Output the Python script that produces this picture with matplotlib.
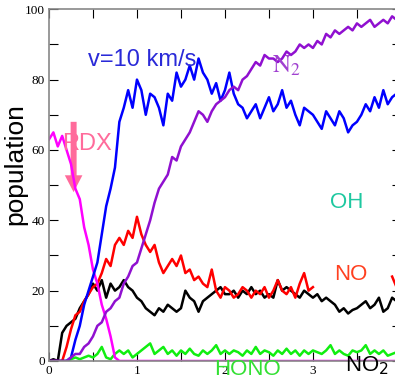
import numpy as np
import matplotlib
matplotlib.use("Agg")
import matplotlib.pyplot as plt
from matplotlib.ticker import MultipleLocator

plt.rcParams['font.family'] = 'Liberation Serif'

# time axis (ps), sampled every 0.05
t = np.round(np.arange(80) * 0.05, 2)

# molecule counts vs time
rdx = [63, 65, 61, 64, 60, 56, 49, 46, 38, 33, 26, 22, 16, 12, 7, 1] + [0] * 64

n2 = [0, 0, 0, 0, 0,
      1, 2, 2, 4, 5,
      7, 10, 11, 14, 15,
      17, 18, 22, 24, 27,
      28, 32, 36, 40, 45,
      49, 51, 53, 58, 57,
      61, 63, 65, 68, 71,
      70, 68, 71, 73, 74,
      75, 77, 78, 77, 80,
      81, 83, 85, 84, 87,
      86, 86, 85, 86, 88,
      87, 88, 90, 89, 90,
      89, 91, 90, 93, 92,
      94, 93, 94, 95, 94,
      96, 95, 96, 97, 95,
      96, 97, 96, 98, 97]

h2o = [0, 0, 0, 0, 0,
       1, 6, 10, 16, 20,
       24, 28, 36, 44, 49,
       55, 68, 72, 77, 72,
       80, 77, 70, 76, 75,
       72, 67, 76, 74, 82,
       78, 80, 84, 80, 86,
       82, 80, 76, 79, 74,
       77, 82, 76, 73, 72,
       69, 71, 73, 69, 72,
       75, 71, 73, 77, 72,
       74, 70, 67, 72, 71,
       70, 68, 66, 71, 69,
       67, 71, 69, 65, 67,
       68, 70, 73, 71, 75,
       72, 77, 73, 75, 76]

no = [0, 0, 0, 0, 4,
      9, 13, 14, 17, 19,
      21, 22, 25, 29, 27,
      33, 35, 33, 37, 35,
      41, 36, 33, 31, 33,
      28, 25, 27, 29, 27,
      30, 25, 26, 23, 24,
      22, 21, 26, 20, 18,
      21, 20, 18, 19, 21,
      20, 18, 20, 19, 21,
      18, 20, 23, 20, 19,
      21, 18, 22, 25, 20,
      21, None, None, None, None,
      None, None, None, None, None,
      None, None, None, None, None,
      None, None, None, 24, 21]

no2 = [0, 0.5, 0, 8, 10,
       11, 12, 15, 17, 19,
       22, 20, 23, 18, 22,
       20, 21, 23, 21, 20,
       18, 17, 15, 14, 13,
       15, 14, 16, 15, 14,
       15, 20, 18, 17, 14,
       17, 18, 19, 20, 21,
       19, 19, 20, 18, 20,
       19, 21, 19, 20, 18,
       19, 18, 23, 20, 21,
       20, 19, 18, 20, 19,
       18, 19, 17, 18, 17,
       16, 14, 15, 13.5, 14.5,
       15, 16, 17, 15, 16,
       18, 14, 15, 18, 17]

hono = [0, 0, 0, 0, 0,
        0.5, 1, 0.5, 1, 1.5,
        1, 2, 4, 1, 0.5,
        2, 3, 2, 3, 1,
        2, 3, 4, 5, 2,
        3, 4, 2, 3, 1.5,
        3, 2, 3.5, 2, 1.5,
        3, 2, 3, 4.5, 2,
        3, 2, 3, 2.5, 1.5,
        3, 2, 4, 2, 3,
        2.5, 1.5, 3, 2, 3.5,
        2, 3, 1.5, 3, 2,
        3, 2.5, 2, 3, 4.5,
        2, 3, 2, 1.5, 3,
        2.5, 3, 4.5, 2, 3,
        2, 3, 1.5, 2, 2.5]

xticks = [0, 1, 2, 3]
yticks = [0, 20, 40, 60, 80, 100]

fig = plt.figure(figsize=(3.95, 3.82), dpi=100)
ax = fig.add_axes([0.124, 0.055, 0.891, 0.9207])

lw = 1.8
ax.plot(t, hono, color='#11ee11', lw=lw)
ax.plot(t, np.array(no2, dtype=float), color='black', lw=lw)
ax.plot(t, np.array(no, dtype=float), color='#ff0000', lw=lw)
ax.plot(t, rdx, color='#ff00ff', lw=lw)
ax.plot(t, h2o, color='#0000ff', lw=lw)
ax.plot(t, n2, color='#9010d0', lw=lw)

ax.set_xlim(0, 4.0)
ax.set_ylim(0, 100)
ax.set_xticks(xticks)
ax.set_xticklabels([str(v) for v in xticks])
ax.set_yticks(yticks)
ax.set_yticklabels([str(v) for v in yticks])
ax.xaxis.set_minor_locator(MultipleLocator(0.5))
ax.yaxis.set_minor_locator(MultipleLocator(10))
ax.tick_params(which='both', direction='in', length=6.5, width=0.8,
               top=True, right=True, labelsize=9.5, pad=3)
for s in ax.spines.values():
    s.set_color('#888888')
    s.set_linewidth(1.2)

# labels
sans = 'Liberation Sans'
ax.text(0.44, 84, 'v=10 km/s', color='#2a2ad8', fontsize=17, family=sans)
ax.text(0.15, 60, 'RDX', color='#ff6b9b', fontsize=17, family=sans)
ax.arrow(0.28, 68, 0, -20, width=0.068, head_width=0.2, head_length=4.8,
         length_includes_head=True, color='#ff6b9b', lw=0)
ax.text(2.54, 82, r'$\mathrm{N}_2$', color='#a040d0', fontsize=18,
        math_fontfamily='stix')
ax.text(3.19, 43.5, 'OH', color='#1ec8a0', fontsize=16, family=sans)
ax.text(3.24, 23, 'NO', color='#ff4020', fontsize=16, family=sans)
ax.text(1.875, -4, 'HONO', color='#33e033', fontsize=16, family=sans)
ax.text(3.36, -3.1, r'NO$_2$', color='black', fontsize=16, family=sans,
        math_fontfamily='dejavusans')

fig.text(27 / 395, 0.57, 'population', rotation=90, fontsize=19,
         family=sans, ha='right', va='center')

fig.savefig('out.png', dpi=100)
